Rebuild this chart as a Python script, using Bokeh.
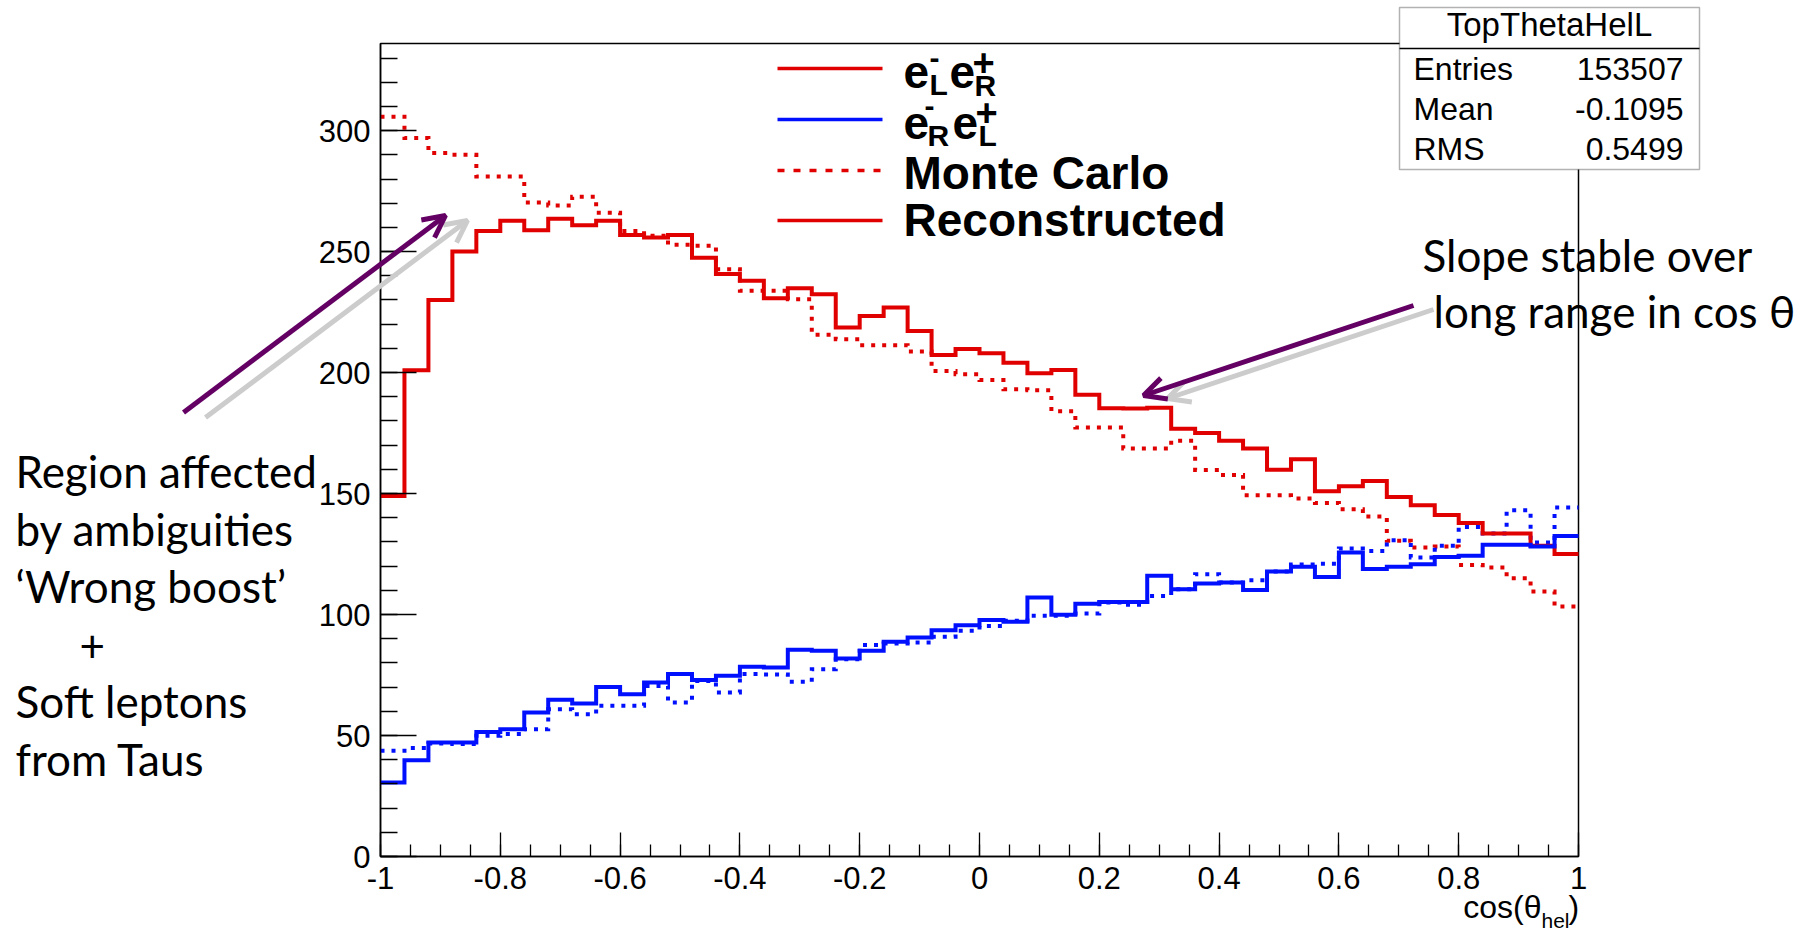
import numpy as np
from bokeh.plotting import figure
from bokeh.models import (Range1d, FixedTicker, Label, Arrow, OpenHead, BoxAnnotation,
                          LinearAxis)
from bokeh.embed import file_html
from bokeh.resources import INLINE

# ---------------------------------------------------------------- data
# cos(theta_hel) histogram, 50 bins over [-1, 1]
bin_edges = np.linspace(-1.0, 1.0, 51)

# e-_L e+_R, reconstructed
rec_LR = [149.0, 201.0, 230.0, 250.0, 258.5, 262.7, 258.8, 263.6, 260.9, 262.7,
          256.9, 255.8, 256.9, 247.5, 240.7, 237.9, 230.7, 234.9, 232.4, 218.6,
          223.4, 226.9, 217.2, 207.3, 209.7, 208.0, 204.1, 199.7, 201.1, 190.8,
          185.3, 185.2, 185.5, 176.8, 175.0, 171.8, 168.6, 159.8, 164.2, 151.0,
          153.0, 155.2, 148.6, 145.2, 141.1, 137.8, 133.5, 133.5, 128.4, 125.0]
# e-_L e+_R, Monte Carlo
mc_LR = [305.7, 296.9, 290.7, 290.0, 281.0, 281.0, 270.3, 269.0, 272.7, 266.1,
         258.5, 256.5, 252.8, 252.4, 242.7, 233.8, 233.8, 230.3, 215.6, 213.8,
         211.3, 211.3, 208.7, 200.7, 199.3, 196.9, 193.1, 192.7, 184.0, 177.3,
         177.3, 168.6, 168.6, 171.8, 159.7, 157.7, 149.3, 149.3, 148.0, 146.1,
         143.5, 140.5, 130.5, 127.7, 128.1, 120.5, 119.4, 115.0, 109.5, 103.3]
# e-_R e+_L, reconstructed
rec_RL = [30.6, 39.8, 47.1, 47.1, 51.5, 52.6, 59.5, 64.8, 63.2, 70.1,
          67.1, 71.9, 75.4, 72.9, 74.7, 78.4, 78.1, 85.4, 85.0, 81.8,
          85.0, 88.8, 90.5, 93.5, 95.6, 97.7, 97.0, 107.0, 99.9, 104.5,
          105.2, 105.2, 116.0, 110.5, 112.8, 113.2, 110.1, 117.8, 119.8, 115.5,
          125.6, 118.8, 119.7, 120.8, 123.8, 124.3, 128.8, 128.8, 128.1, 132.5]
# e-_R e+_L, Monte Carlo
mc_RL = [43.7, 44.8, 46.7, 46.5, 49.9, 50.6, 52.6, 60.9, 58.8, 62.3,
         62.3, 70.5, 63.6, 72.5, 67.8, 75.4, 75.2, 72.2, 77.4, 81.5,
         87.4, 88.0, 88.4, 90.8, 93.3, 95.3, 97.4, 99.5, 99.5, 100.4,
         105.0, 104.0, 107.7, 110.5, 116.7, 113.2, 114.2, 117.8, 120.7, 121.0,
         127.3, 126.3, 130.7, 123.6, 128.4, 136.2, 133.5, 143.1, 129.8, 144.2]

x_ticks = [-1, -0.8, -0.6, -0.4, -0.2, 0, 0.2, 0.4, 0.6, 0.8, 1]
x_tick_labels = ["-1", "-0.8", "-0.6", "-0.4", "-0.2", "0", "0.2", "0.4", "0.6", "0.8", "1"]
x_minor = [round(-1 + 0.05 * i, 2) for i in range(41)]
y_ticks = [0, 50, 100, 150, 200, 250, 300]
y_minor = list(range(0, 340, 10))

stats_title = "TopThetaHelL"
stats_names = ["Entries", "Mean", "RMS"]
stats_values = ["153507", "-0.1095", "0.5499"]

# ---------------------------------------------------------------- layout
W, H = 1812, 933
FL, FR, FT, FB = 380, 1578, 43, 856          # histogram frame edges, page pixels
X0, X1, Y0, Y1 = -1.0, 1.0, 0.0, 336.0       # histogram frame in data units

def dx(px):
    return X0 + (px - FL) * (X1 - X0) / (FR - FL)

def dy(py):
    return Y0 + (FB - py) * (Y1 - Y0) / (FB - FT)

RED = "#e00000"
BLUE = "#0010ff"
PURPLE = "#640064"
GREY = "#cccccc"
AXFONT = "Liberation Sans"
NOTEFONT = "Lato"

# the drawing area spans the whole page so notes can sit beside the frame
p = figure(width=W, height=H, x_range=Range1d(dx(0), dx(W)), y_range=Range1d(dy(H), dy(0)),
           output_backend="svg", toolbar_location=None, x_axis_type=None, y_axis_type=None,
           min_border=0)
p.background_fill_color = "white"
p.border_fill_color = "white"
p.outline_line_color = None
p.grid.visible = False

xax = LinearAxis(fixed_location=Y0, bounds=(X0, X1),
                 ticker=FixedTicker(ticks=x_ticks, minor_ticks=x_minor),
                 major_label_overrides=dict(zip(x_ticks, x_tick_labels)))
yax = LinearAxis(fixed_location=X0, bounds=(Y0, Y1),
                 ticker=FixedTicker(ticks=y_ticks, minor_ticks=y_minor))
for ax in (xax, yax):
    ax.axis_line_color = "black"
    ax.axis_line_width = 1.5
    ax.major_tick_line_color = "black"
    ax.minor_tick_line_color = "black"
    ax.major_tick_line_width = 1.3
    ax.minor_tick_line_width = 1.3
    ax.major_tick_out = 0
    ax.minor_tick_out = 0
    ax.major_label_text_font = AXFONT
    ax.major_label_text_font_size = "31px"
    ax.major_label_text_color = "black"
xax.major_tick_in = 24
xax.minor_tick_in = 12
xax.major_label_standoff = 10
yax.major_tick_in = 36
yax.minor_tick_in = 17
yax.major_label_standoff = 10
p.add_layout(xax, "below")
p.add_layout(yax, "left")

# frame box
p.quad(left=[X0], right=[X1], bottom=[Y0], top=[Y1], fill_color=None,
       line_color="black", line_width=1.5)

# histograms
def steps(v):
    return list(v) + [v[-1]]

p.step(bin_edges, steps(mc_LR), mode="after", line_color=RED, line_width=4,
       line_dash="4 7", line_join="miter")
p.step(bin_edges, steps(mc_RL), mode="after", line_color=BLUE, line_width=4,
       line_dash="4 7", line_join="miter")
p.step(bin_edges, steps(rec_LR), mode="after", line_color=RED, line_width=4,
       line_join="miter")
p.step(bin_edges, steps(rec_RL), mode="after", line_color=BLUE, line_width=4,
       line_join="miter")

# legend
leg_rows = [68, 119, 170, 220]
leg_styles = [(RED, "solid"), (BLUE, "solid"), (RED, "7 9"), (RED, "solid")]
for yrow, (col, dash) in zip(leg_rows, leg_styles):
    p.segment(x0=[dx(777)], y0=[dy(yrow)], x1=[dx(882)], y1=[dy(yrow)],
              line_color=col, line_width=3.5, line_dash=dash)

def txt(px, py, s, size, font=AXFONT, style="normal", align="left", color="black",
        level="annotation"):
    # py is the vertical middle of the text line, in page pixels
    p.add_layout(Label(x=dx(px), y=dy(py), text=s, text_font=font,
                       text_font_size=f"{size}px", text_font_style=style,
                       text_align=align, text_baseline="middle",
                       text_color=color, level=level))

# e-_L e+_R
txt(903, 71, "e", 46, style="bold")
txt(929, 57, "-", 30, style="bold")
txt(929, 84, "L", 30, style="bold")
txt(949, 71, "e", 46, style="bold")
txt(972, 62, "+", 38, style="bold")
txt(974, 85, "R", 30, style="bold")
# e-_R e+_L
txt(903, 122, "e", 46, style="bold")
txt(924, 105, "-", 30, style="bold")
txt(927, 135, "R", 30, style="bold")
txt(952, 122, "e", 46, style="bold")
txt(975, 112, "+", 38, style="bold")
txt(978, 135, "L", 30, style="bold")
txt(903, 172, "Monte Carlo", 46, style="bold")
txt(903, 219, "Reconstructed", 46, style="bold")

# statistics box
p.add_layout(BoxAnnotation(left=dx(1399), right=dx(1699), top=dy(7), bottom=dy(169),
                           fill_color="white", fill_alpha=1.0,
                           line_color="black", line_width=1.5, level="overlay"))
p.add_layout(Arrow(x_start=dx(1399), y_start=dy(48), x_end=dx(1699), y_end=dy(48),
                   end=None, line_color="black", line_width=1.5, level="overlay"))
txt(1549, 24, stats_title, 33, align="center", level="overlay")
for py, name, val in zip([68, 108, 148], stats_names, stats_values):
    txt(1413, py, name, 32, level="overlay")
    txt(1683, py, val, 32, align="right", level="overlay")

# axis title
txt(1541, 906, "cos(θ", 32, align="right")
txt(1541, 920, "hel", 21)
txt(1568, 906, ")", 32)

# notes
left_notes = ["Region affected", "by ambiguities", "‘Wrong boost’", "+",
              "Soft leptons", "from Taus"]
left_x = [15, 15, 15, 79, 15, 15]
left_mid = [470, 528, 585, 645, 700, 758]
for s, px, py in zip(left_notes, left_x, left_mid):
    txt(px, py, s, 44, font=NOTEFONT)
txt(1422, 254, "Slope stable over", 44, font=NOTEFONT)
txt(1433, 310, "long range in cos θ", 44, font=NOTEFONT)

# arrows
def arrow(x0, y0, x1, y1, col):
    p.add_layout(Arrow(x_start=dx(x0), y_start=dy(y0), x_end=dx(x1), y_end=dy(y1),
                       line_color=col, line_width=5,
                       end=OpenHead(size=22, line_color=col, line_width=5)))

arrow(205, 417, 467, 220, GREY)
arrow(183, 412, 445, 215, PURPLE)
arrow(1433, 309, 1167, 398, GREY)
arrow(1413, 305, 1143, 395, PURPLE)

open("out.html", "w").write(file_html(p, INLINE))
